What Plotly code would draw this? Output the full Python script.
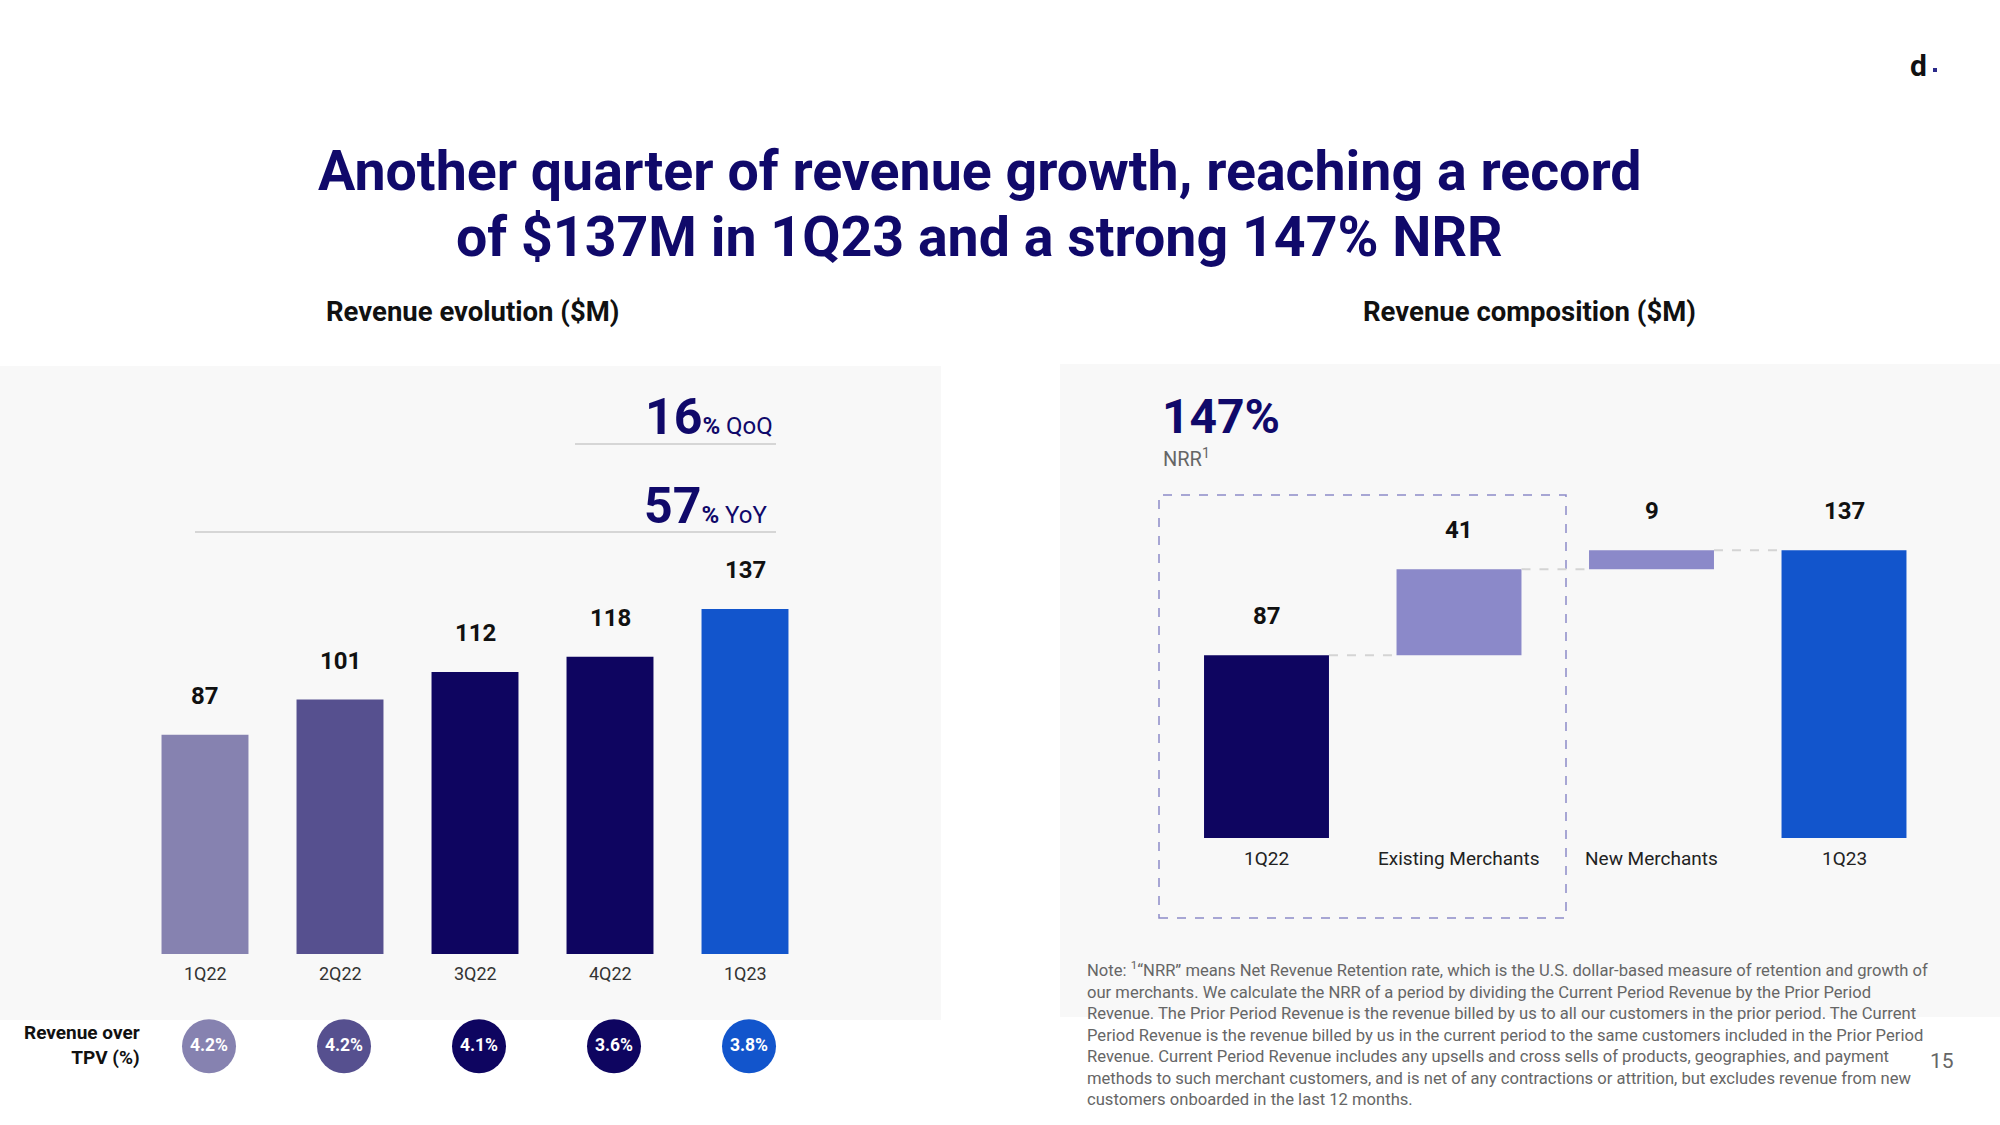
import plotly.graph_objects as go

W, H = 2000, 1125
FONT = "Roboto"
NAVY = "#10096a"

# ---------------- data ----------------
quarters = ["1Q22", "2Q22", "3Q22", "4Q22", "1Q23"]
revenue = [87, 101, 112, 118, 137]
rev_over_tpv = [4.2, 4.2, 4.1, 3.6, 3.8]
quarter_colors = ["#8682b0", "#56508f", "#0e0560", "#0e0560", "#1255cc"]

comp_categories = ["1Q22", "Existing Merchants", "New Merchants", "1Q23"]
comp_values = [87, 41, 9, 137]
comp_measures = ["absolute", "relative", "relative", "total"]
comp_colors = ["#0e0560", "#8b89c9", "#8b89c9", "#1255cc"]

qoq_growth = 16
yoy_growth = 57
nrr = 147

title_lines = ["Another quarter of revenue growth, reaching a record",
               "of $137M in 1Q23 and a strong 147% NRR"]
note_lines = [
    "Note: <sup>1</sup>\u201cNRR\u201d means Net Revenue Retention rate, which is the U.S. dollar-based measure of retention and growth of",
    "our merchants. We calculate the NRR of a period by dividing the Current Period Revenue by the Prior Period",
    "Revenue. The Prior Period Revenue is the revenue billed by us to all our customers in the prior period. The Current",
    "Period Revenue is the revenue billed by us in the current period to the same customers included in the Prior Period",
    "Revenue. Current Period Revenue includes any upsells and cross sells of products, geographies, and payment",
    "methods to such merchant customers, and is net of any contractions or attrition, but excludes revenue from new",
    "customers onboarded in the last 12 months.",
]


def px_x(x):
    return x / W


def px_y(y):
    return 1 - y / H


# waterfall bases / heights
comp_base, comp_height, comp_top = [], [], []
running = 0
for v, m in zip(comp_values, comp_measures):
    if m == "absolute":
        running = v
        comp_base.append(0); comp_height.append(v)
    elif m == "relative":
        comp_base.append(running); comp_height.append(v)
        running += v
    else:
        comp_base.append(0); comp_height.append(running)
    comp_top.append(comp_base[-1] + comp_height[-1])

fig = go.Figure()

LEFT_W = 0.644
RIGHT_W = 0.649

fig.add_trace(go.Bar(x=quarters, y=revenue, marker=dict(color=quarter_colors, line=dict(width=0)),
                     width=LEFT_W, xaxis="x", yaxis="y", hoverinfo="skip"))

fig.add_trace(go.Scatter(x=quarters, y=[0.5] * len(quarters), xaxis="x3", yaxis="y3",
                         mode="markers+text", cliponaxis=False,
                         marker=dict(size=54, color=quarter_colors, line=dict(width=0)),
                         text=[f"<b>{v:.1f}%</b>" for v in rev_over_tpv],
                         textposition="middle center",
                         textfont=dict(family=FONT, size=17.5, color="white"),
                         hoverinfo="skip"))

fig.add_trace(go.Bar(x=comp_categories, y=comp_height, base=comp_base,
                     marker=dict(color=comp_colors, line=dict(width=0)),
                     width=RIGHT_W, xaxis="x2", yaxis="y2", hoverinfo="skip"))

ax_hidden = dict(showgrid=False, zeroline=False, showline=False, showticklabels=False, ticks="")

fig.update_layout(
    width=W, height=H,
    margin=dict(l=0, r=0, t=0, b=0),
    paper_bgcolor="white", plot_bgcolor="rgba(0,0,0,0)",
    showlegend=False,
    font=dict(family=FONT),
    xaxis=dict(domain=[px_x(137.5), px_x(812.5)], range=[-0.5, 4.5], anchor="y", **ax_hidden),
    yaxis=dict(domain=[px_y(954), px_y(551)], range=[0, 160], anchor="x", **ax_hidden),
    xaxis3=dict(domain=[px_x(141.5), px_x(816.5)], range=[-0.5, 4.5], anchor="y3", **ax_hidden),
    yaxis3=dict(domain=[0.02, 0.12], range=[0, 1], anchor="x3", **ax_hidden),
    xaxis2=dict(domain=[px_x(1170.25), px_x(1940.25)], range=[-0.5, 3.5], anchor="y2", **ax_hidden),
    yaxis2=dict(domain=[px_y(838), px_y(502)], range=[0, 160], anchor="x2", **ax_hidden),
)

shapes = []
# panel backgrounds
shapes.append(dict(type="rect", xref="paper", yref="paper", x0=0, x1=px_x(941), y0=px_y(1020), y1=px_y(366),
                   fillcolor="#f8f8f8", line=dict(width=0), layer="below"))
shapes.append(dict(type="rect", xref="paper", yref="paper", x0=px_x(1060), x1=1, y0=px_y(1017), y1=px_y(364),
                   fillcolor="#f8f8f8", line=dict(width=0), layer="below"))
# growth separator lines
shapes.append(dict(type="line", xref="paper", yref="paper", x0=px_x(575), x1=px_x(776), y0=px_y(444), y1=px_y(444),
                   line=dict(color="#d6d6d6", width=2)))
shapes.append(dict(type="line", xref="paper", yref="paper", x0=px_x(195), x1=px_x(776), y0=px_y(532), y1=px_y(532),
                   line=dict(color="#d6d6d6", width=2)))
# dashed box around NRR part
shapes.append(dict(type="rect", xref="paper", yref="paper", x0=px_x(1159), x1=px_x(1566), y0=px_y(918), y1=px_y(495),
                   fillcolor="rgba(0,0,0,0)", line=dict(color="#8c8ac8", width=1.5, dash="dash")))
# waterfall connectors
for i in range(len(comp_categories) - 1):
    level = comp_top[i] if comp_measures[i + 1] != "total" else comp_top[i + 1]
    shapes.append(dict(type="line", xref="x2", yref="y2", x0=i + RIGHT_W / 2, x1=i + 1 - RIGHT_W / 2,
                       y0=level, y1=level, line=dict(color="#d4d4d4", width=2, dash="dash")))
# logo dot
shapes.append(dict(type="rect", xref="paper", yref="paper", x0=px_x(1933), x1=px_x(1937), y0=px_y(72), y1=px_y(68),
                   fillcolor="#2b2a8a", line=dict(width=0)))
fig.update_layout(shapes=shapes)

ann = []
# title
for line, y in zip(title_lines, [171, 237]):
    ann.append(dict(text=f"<b>{line}</b>", xref="paper", yref="paper", x=px_x(979), y=px_y(y),
                    xanchor="center", yanchor="middle", showarrow=False,
                    font=dict(family=FONT, size=55.5, color=NAVY)))
# subtitles
ann.append(dict(text="<b>Revenue evolution ($M)</b>", xref="paper", yref="paper", x=px_x(472), y=px_y(311),
                xanchor="center", yanchor="middle", showarrow=False, font=dict(family=FONT, size=27.5, color="#111111")))
ann.append(dict(text="<b>Revenue composition ($M)</b>", xref="paper", yref="paper", x=px_x(1529), y=px_y(311),
                xanchor="center", yanchor="middle", showarrow=False, font=dict(family=FONT, size=27.5, color="#111111")))
# growth numbers
ann.append(dict(text=f"<b>{qoq_growth}</b><span style='font-size:24px'><b>%</b> QoQ</span>",
                xref="paper", yref="paper", x=px_x(775), y=px_y(417), xanchor="right", yanchor="middle",
                showarrow=False, font=dict(family=FONT, size=50, color=NAVY)))
ann.append(dict(text=f"<b>{yoy_growth}</b><span style='font-size:24px'><b>%</b> YoY</span>",
                xref="paper", yref="paper", x=px_x(769), y=px_y(506), xanchor="right", yanchor="middle",
                showarrow=False, font=dict(family=FONT, size=50, color=NAVY)))
# left bar labels
for q, v in zip(quarters, revenue):
    ann.append(dict(text=f"<b>{v}</b>", xref="x", yref="y", x=q, y=v, yshift=39, xanchor="center",
                    yanchor="middle", showarrow=False, font=dict(family=FONT, size=24, color="#111111")))
    ann.append(dict(text=q, xref="x", yref="y", x=q, y=0, yshift=-19, xanchor="center",
                    yanchor="middle", showarrow=False, font=dict(family=FONT, size=18, color="#333333")))
ann.append(dict(text="<b>Revenue over<br>TPV (%)</b>", xref="paper", yref="paper", x=px_x(142), y=px_y(1045),
                xanchor="right", yanchor="middle", align="right", showarrow=False,
                font=dict(family=FONT, size=19, color="#111111")))
# waterfall labels
for i, c in enumerate(comp_categories):
    ann.append(dict(text=f"<b>{comp_values[i]}</b>", xref="x2", yref="y2", x=i, y=comp_top[i], yshift=39,
                    xanchor="center", yanchor="middle", showarrow=False,
                    font=dict(family=FONT, size=24, color="#111111")))
    ann.append(dict(text=c, xref="x2", yref="y2", x=i, y=0, yshift=-20, xanchor="center",
                    yanchor="middle", showarrow=False, font=dict(family=FONT, size=19, color="#222222")))
# NRR
ann.append(dict(text=f"<b>{nrr}%</b>", xref="paper", yref="paper", x=px_x(1160), y=px_y(416),
                xanchor="left", yanchor="middle", showarrow=False, font=dict(family=FONT, size=48, color=NAVY)))
ann.append(dict(text="NRR<sup>1</sup>", xref="paper", yref="paper", x=px_x(1161), y=px_y(458),
                xanchor="left", yanchor="middle", showarrow=False, font=dict(family=FONT, size=20, color="#666666")))
# note
ann.append(dict(text="<br>".join(note_lines), xref="paper", yref="paper", x=px_x(1085), y=px_y(956),
                xanchor="left", yanchor="top", align="left", showarrow=False,
                font=dict(family=FONT, size=16.6, color="#666666")))
# page number
ann.append(dict(text="15", xref="paper", yref="paper", x=px_x(1942), y=px_y(1061), xanchor="center",
                yanchor="middle", showarrow=False, font=dict(family=FONT, size=21, color="#666666")))
# logo
ann.append(dict(text="<b>d</b>", xref="paper", yref="paper", x=px_x(1918), y=px_y(66), xanchor="center",
                yanchor="middle", showarrow=False, font=dict(family=FONT, size=30, color="#111111")))
fig.update_layout(annotations=ann)

fig.write_html("out.html")
